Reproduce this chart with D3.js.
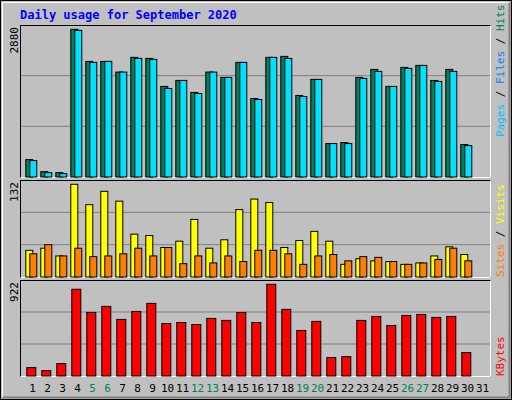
<!DOCTYPE html>
<html><head><meta charset="utf-8">
<script src="https://cdn.jsdelivr.net/npm/d3@7"></script>
<style>body{margin:0;background:#fff}svg{display:block}</style>
</head><body>
<script>
const days = d3.range(1, 32).map(String);
const weekend = ["5","6","12","13","19","20","26","27"];
const hits = [339,104,85,2880,2254,2254,2046,2333,2313,1766,1883,1649,2046,1942,2235,1531,2333,2352,1590,1903,652,671,1942,2098,1766,2137,2176,1883,2098,632];
const files = [320,85,65,2860,2235,2254,2046,2313,2294,1727,1883,1629,2046,1942,2235,1512,2333,2313,1570,1903,652,652,1922,2059,1766,2118,2176,1864,2059,613];
const visits = [38,41,30,132,103,122,108,61,59,42,51,82,41,53,96,111,106,42,52,65,51,18,26,23,22,18,20,30,43,32];
const sites = [33,46,30,41,29,30,33,41,30,42,19,30,20,30,22,38,38,33,18,30,32,23,29,28,22,18,20,25,41,23];
const kbytes = [84,54,125,872,639,700,569,649,730,528,538,518,579,559,639,538,922,670,458,549,185,195,559,599,508,609,619,589,599,236];
const maxLabels = ["2880","132","922"];

const W=512,H=400;
const svg=d3.select("body").append("svg").attr("width",W).attr("height",H);
svg.append("rect").attr("width",W).attr("height",H).attr("fill","#c0c0c0");
svg.append("rect").attr("x",0.5).attr("y",0.5).attr("width",W-1).attr("height",H-1).attr("fill","none").attr("stroke","#000");
svg.append("path").attr("d","M2.5,397.5V2.5H509.5").attr("fill","none").attr("stroke","#fff");
svg.append("path").attr("d","M2.5,397.5H509.5V2.5").attr("fill","none").attr("stroke","#808080").attr("stroke-width",2);
svg.append("text").attr("x",20).attr("y",19).attr("fill","#0000ff").attr("font-family","DejaVu Sans Mono").attr("font-weight","bold").attr("font-size",12).text("Daily usage for September 2020");

const x=d3.scaleBand().domain(days).range([25,490]);
const mono="DejaVu Sans Mono";
const panels=[{t:25,b:177,top:29.3},{t:180,b:277,top:184.3},{t:280,b:376,top:284.3}];
panels.forEach((p,i)=>{
  svg.append("rect").attr("x",20.5).attr("y",p.t+0.5).attr("width",470).attr("height",p.b-p.t).attr("fill","#c0c0c0").attr("stroke","#000");
  svg.append("path").attr("d",`M20.5,${p.b+0.5}H490.5V${p.t+0.5}`).attr("fill","none").attr("stroke","#fff");
  for(let k=1;k<3;k++){const gy=p.b-(p.b-p.t)*k/3;
    svg.append("line").attr("x1",21).attr("x2",490).attr("y1",gy).attr("y2",gy).attr("stroke","#808080");}
  svg.append("text").attr("transform",`translate(18,${p.t+2}) rotate(-90)`).attr("text-anchor","end")
    .attr("font-family",mono).attr("font-size",11).attr("fill","#000").text(maxLabels[i]);
});
const y0=d3.scaleLinear().domain([0,2880]).range([177,29.3]);
const y1=d3.scaleLinear().domain([0,132]).range([277,184.3]);
const y2=d3.scaleLinear().domain([0,922]).range([376,284.3]);
function bars(data,y,dx,w,fill){
  svg.append("g").selectAll("rect").data(data).join("rect")
   .attr("x",(d,i)=>x(days[i])+dx).attr("y",d=>y(d)).attr("width",w).attr("height",d=>y(0)-y(d))
   .attr("fill",fill).attr("stroke","#000").attr("stroke-width",1);
}
bars(hits,y0,0.8,7,"#00805c");
bars(files,y0,4.8,7,"#00e0ff");
bars(visits,y1,0.8,7,"#ffff00");
bars(sites,y1,4.8,7,"#ff8000");
bars(kbytes,y2,1.8,9,"#ff0000");

svg.append("g").selectAll("text").data(days).join("text")
  .attr("x",d=>x(d)+x.bandwidth()/2).attr("y",392).attr("text-anchor","middle")
  .attr("font-family",mono).attr("font-size",11)
  .attr("fill",d=>weekend.includes(d)?"#00805c":"#000").text(d=>d);

function rlabel(yb,parts){
  const t=svg.append("text").attr("transform",`translate(504,${yb}) rotate(-90)`)
    .attr("font-family",mono).attr("font-size",11);
  parts.forEach(([s,c])=>t.append("tspan").attr("fill",c).text(s));
}
rlabel(137,[["Pages","#00c0ff"],[" / ","#000"],["Files","#0080ff"],[" / ","#000"],["Hits","#00805c"]]);
rlabel(277,[["Sites","#ff8000"],[" / ","#000"],["Visits","#ffff00"]]);
rlabel(376,[["KBytes","#ff0000"]]);
</script>
</body></html>
